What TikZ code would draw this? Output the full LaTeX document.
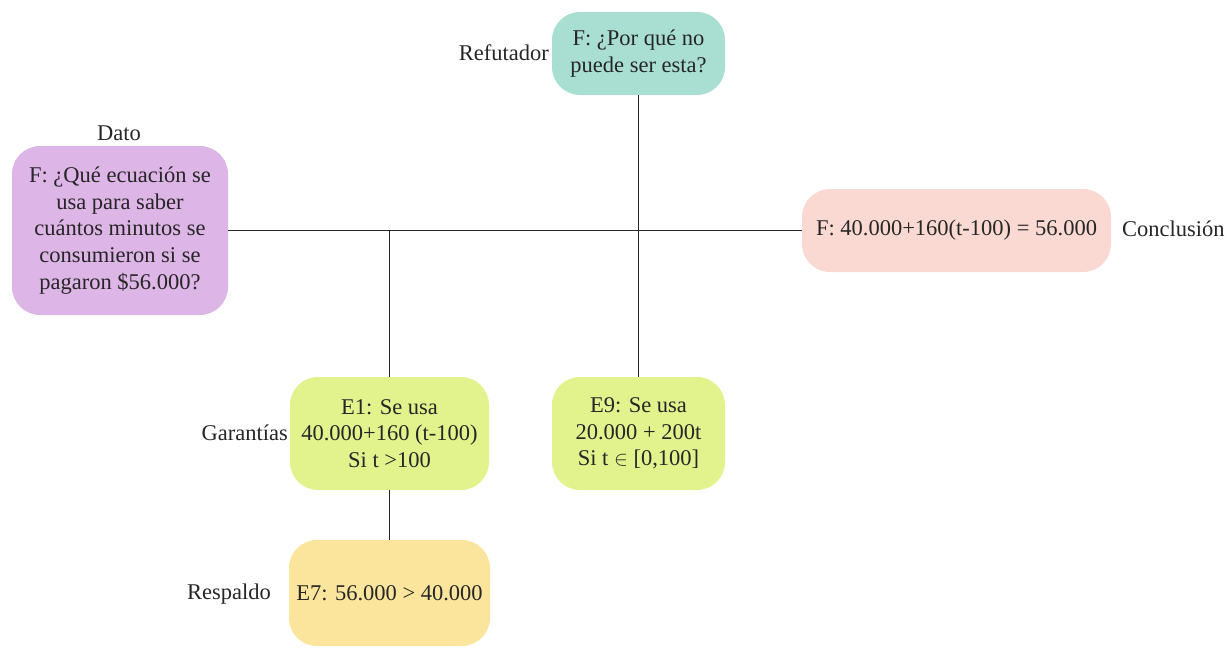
\documentclass[tikz,border=0pt]{standalone}
\usepackage{fontspec}
\setmainfont{Liberation Serif}
\definecolor{datofill}{HTML}{DDB5E6}
\definecolor{refutfill}{HTML}{A9DFD3}
\definecolor{conclfill}{HTML}{FAD9D2}
\definecolor{garfill}{HTML}{E2F28D}
\definecolor{respfill}{HTML}{FBE49C}
\definecolor{ink}{HTML}{262626}
\begin{document}
\begin{tikzpicture}[x=1pt,y=-1pt,
  every node/.style={text=ink, font=\fontsize{22.5}{26.7}\selectfont},
  card/.style={rounded corners=28pt, align=center, inner sep=0pt},
  tag/.style={inner sep=0pt},
  link/.style={draw=ink, line width=1.2pt}]
\useasboundingbox (0,0) rectangle (1227,648);

% argument elements
\node[card, fill=datofill, minimum width=216pt, minimum height=169pt] (dato) at (120,230.5)
  {F: ¿Qué ecuación se\\usa para saber\\cuántos minutos se\\consumieron si se\\pagaron \$56.000?};
\node[card, fill=refutfill, minimum width=173pt, minimum height=83pt] (refut) at (638.5,53.5)
  {F: ¿Por qué no\\puede ser esta?};
\node[card, fill=conclfill, minimum width=309pt, minimum height=83pt] (concl) at (956.5,230.5)
  {F: 40.000+160(t-100) = 56.000};
\node[card, fill=garfill, minimum width=199pt, minimum height=113pt] (e1) at (389.5,433.5)
  {E1: Se usa\\40.000+160 (t-100)\\Si t >100};
\node[card, fill=garfill, minimum width=173pt, minimum height=113pt] (e9) at (638.5,433.5)
  {E9: Se usa\\20.000 + 200t\\Si t $\in$ [0,100]};
\node[card, fill=respfill, minimum width=201pt, minimum height=106pt] (e7) at (389.5,593)
  {E7: 56.000 > 40.000};

% role labels
\node[tag] (ldato) at (119,133) {Dato};
\node[tag, anchor=east] (lrefut) at (549,53) {Refutador};
\node[tag, anchor=west] (lconcl) at (1122,229) {Conclusión};
\node[tag, anchor=east] (lgar) at (288,433) {Garantías};
\node[tag, anchor=east] (lresp) at (271,594) {Respaldo};

% connectors
\coordinate (j1) at (e1.north |- dato.east);
\draw[link] (dato.east) -- (concl.west);
\draw[link] (refut.south) -- (e9.north);
\draw[link] (j1) -- (e1.north);
\draw[link] (e1.south) -- (e7.north);
\end{tikzpicture}
\end{document}
